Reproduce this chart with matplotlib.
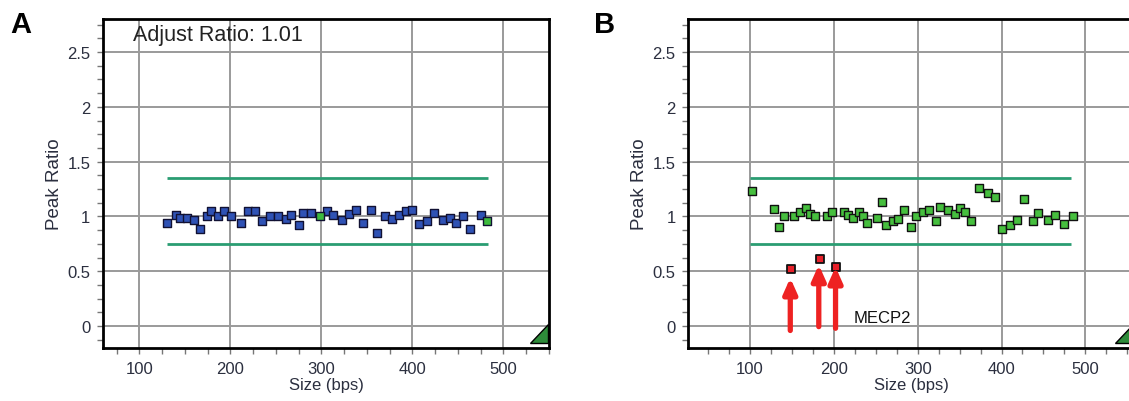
import matplotlib
matplotlib.use("Agg")
import matplotlib.pyplot as plt
from matplotlib.ticker import MultipleLocator, FormatStrFormatter

plt.rcParams['font.family'] = ['Liberation Sans Narrow', 'Liberation Sans', 'DejaVu Sans']

# panel A - normal sample
sizes_a = [130, 140, 145, 152, 160, 167, 174, 179, 186, 193, 201, 212, 219, 227, 235,
           244, 252, 261, 267, 275, 280, 289, 306, 313, 323, 330, 338, 346, 355, 361,
           370, 378, 385, 393, 400, 407, 416, 424, 434, 441, 448, 456, 463, 475]
ratios_a = [0.94, 1.01, 0.99, 0.99, 0.97, 0.89, 1.00, 1.05, 1.00, 1.05, 1.00, 0.94, 1.05, 1.05, 0.96,
            1.00, 1.00, 0.98, 1.01, 0.92, 1.03, 1.03, 1.05, 1.01, 0.97, 1.02, 1.06, 0.94, 1.06, 0.85,
            1.00, 0.98, 1.01, 1.05, 1.06, 0.93, 0.96, 1.03, 0.97, 0.99, 0.94, 1.00, 0.89, 1.01]
ctrl_sizes_a = [298, 482]
ctrl_ratios_a = [1.00, 0.96]
adjust_ratio = "1.01"

# panel B - MECP2 deletion
sizes_b = [102, 129, 135, 141, 153, 160, 167, 172, 178, 192, 198, 212, 217, 223, 230,
           235, 240, 251, 257, 262, 270, 276, 284, 292, 298, 306, 313, 322, 327, 336,
           344, 351, 356, 364, 373, 384, 392, 401, 410, 419, 427, 437, 444, 455, 464,
           474, 485]
ratios_b = [1.23, 1.07, 0.90, 1.00, 1.00, 1.04, 1.08, 1.02, 1.00, 1.00, 1.04, 1.04, 1.01, 0.985, 1.04,
            1.00, 0.94, 0.99, 1.13, 0.92, 0.96, 0.975, 1.06, 0.905, 1.005, 1.045, 1.06, 0.96, 1.09, 1.06,
            1.02, 1.08, 1.04, 0.96, 1.26, 1.21, 1.18, 0.89, 0.92, 0.97, 1.16, 0.955, 1.03, 0.97, 1.015,
            0.935, 1.005]
del_sizes_b = [149, 184, 203]
del_ratios_b = [0.52, 0.61, 0.54]
arrow_x = [148, 182, 202]
arrow_base = [-0.04, -0.005, -0.02]
arrow_tip = [0.44, 0.56, 0.54]

upper_limit = 1.35
lower_limit = 0.75

fig = plt.figure(figsize=(11.29, 4.02), dpi=100)
axA = fig.add_axes([0.0912, 0.1318, 0.395, 0.818])
axB = fig.add_axes([0.6094, 0.1318, 0.395, 0.818])

line_col = '#2a9d72'
tick_col = '#2b2f3f'

def setup(ax, xlim):
    ax.set_xlim(xlim)
    ax.set_ylim(-0.2, 2.8)
    ax.xaxis.set_major_locator(MultipleLocator(100))
    ax.xaxis.set_minor_locator(MultipleLocator(25))
    ax.yaxis.set_major_locator(MultipleLocator(0.5))
    ax.yaxis.set_minor_locator(MultipleLocator(0.125))
    ax.yaxis.set_major_formatter(FormatStrFormatter('%g'))
    ax.grid(True, which='major', color='#9a9a9a', lw=1.4)
    ax.set_axisbelow(True)
    ax.tick_params(which='both', direction='out', color='#777777', labelcolor=tick_col,
                   labelsize=12, length=4, width=1, pad=5)
    for s in ax.spines.values():
        s.set_color('black')
        s.set_linewidth(2)
    ax.set_xlabel('Size (bps)', fontsize=12, color=tick_col, labelpad=1)
    ax.set_ylabel('Peak Ratio', fontsize=13.5, color=tick_col, labelpad=3)
    # corner triangle
    ax.fill([0.958, 0.997, 0.997], [0.015, 0.015, 0.073], transform=ax.transAxes,
            facecolor='#2e8b3a', edgecolor='black', lw=1, zorder=5, clip_on=False)

setup(axA, (60, 550))
setup(axB, (26, 558))

# panel A
axA.hlines([upper_limit, lower_limit], 130, 483, color=line_col, lw=2)
axA.scatter(sizes_a, ratios_a, marker='s', s=40, facecolor='#2f52b5', edgecolor='#111133',
            lw=1, zorder=4)
axA.scatter(ctrl_sizes_a, ctrl_ratios_a, marker='s', s=40, facecolor='#3dbb3d', edgecolor='#111133',
            lw=1, zorder=4)
axA.text(93, 2.66, 'Adjust Ratio: ' + adjust_ratio, fontsize=15.5, color='#222222', va='center')

# panel B
axB.hlines([upper_limit, lower_limit], 100, 483, color=line_col, lw=2)
axB.scatter(sizes_b, ratios_b, marker='s', s=40, facecolor='#46bf3e', edgecolor='#111111',
            lw=1, zorder=4)
axB.scatter(del_sizes_b, del_ratios_b, marker='s', s=30, facecolor='#e8202a', edgecolor='#111111',
            lw=1.3, zorder=4)
for x, b, t in zip(arrow_x, arrow_base, arrow_tip):
    axB.annotate('', xy=(x, t), xytext=(x, b),
                 arrowprops=dict(arrowstyle='-|>,head_length=0.9,head_width=0.4',
                                 color='#ee2222', lw=3.8, shrinkA=0, shrinkB=0),
                 zorder=6)
axB.text(224, 0.075, 'MECP2', fontsize=12, color='#111111', va='center')

fig.text(0.009, 0.918, 'A', fontsize=21, fontweight='bold', va='baseline',
         family=['Liberation Sans', 'DejaVu Sans'])
fig.text(0.526, 0.918, 'B', fontsize=21, fontweight='bold', va='baseline',
         family=['Liberation Sans', 'DejaVu Sans'])

fig.savefig('out.png', dpi=100)
